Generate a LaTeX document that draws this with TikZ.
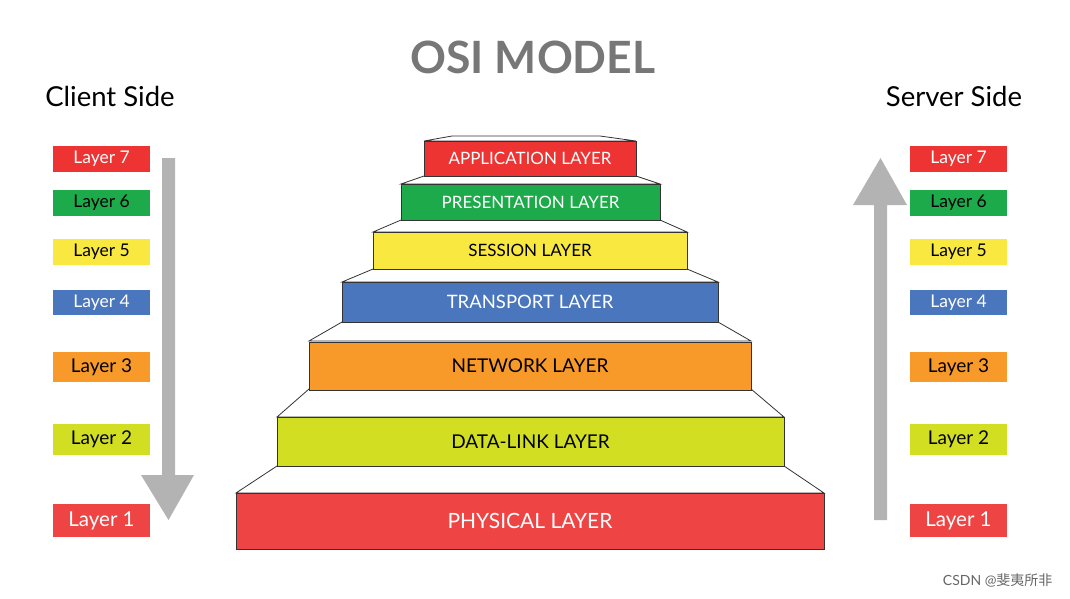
\documentclass[tikz,border=0pt]{standalone}
\usepackage{fontspec}
\setmainfont{Lato}
\newfontfamily\cjk{Noto Sans CJK SC}
\definecolor{cred}{HTML}{EE3333}
\definecolor{cgreen}{HTML}{1DAA4A}
\definecolor{cyellow}{HTML}{F8E83F}
\definecolor{cblue}{HTML}{4A76BD}
\definecolor{corange}{HTML}{F89A2A}
\definecolor{clime}{HTML}{D2DE22}
\definecolor{cphys}{HTML}{EF4444}
\definecolor{carrow}{HTML}{B3B3B3}
\definecolor{ctitle}{HTML}{777777}
\begin{document}
\begin{tikzpicture}[x=1pt,y=-1pt,
  osistep/.style={draw=black!80,line width=0.8pt,inner sep=0pt},
  tread/.style={draw=black!80,line width=0.8pt,fill=white},
  lbl/.style={minimum width=97pt,inner sep=0pt,font=\fontsize{17.5}{17.5}\selectfont}]
\useasboundingbox (0,0) rectangle (1070,598);
\node[font=\bfseries\fontsize{44.5}{44.5}\selectfont,text=ctitle] (title) at (533,57) {OSI MODEL};
\node[font=\fontsize{27.5}{27.5}\selectfont] (client) at (110,96) {Client Side};
\node[font=\fontsize{27.5}{27.5}\selectfont] (server) at (954,96) {Server Side};
% steps: treads
\draw[tread] (452,136) -- (600,136) -- (636,141) -- (424,141) -- cycle;
\draw[tread] (424,176) -- (636,176) -- (660,184) -- (401,184) -- cycle;
\draw[tread] (401,220) -- (660,220) -- (687,232) -- (373,232) -- cycle;
\draw[tread] (373,269) -- (687,269) -- (718,282) -- (342,282) -- cycle;
\draw[tread] (342,322) -- (718,322) -- (751,341) -- (309,341) -- cycle;
\draw[tread] (309,389) -- (751,389) -- (784,417) -- (277,417) -- cycle;
\draw[tread] (277,466) -- (784,466) -- (824,493) -- (236,493) -- cycle;
% layers
\node[osistep,fill=cred,text=white,minimum width=212pt,minimum height=35pt,font=\fontsize{17}{17}\selectfont] (app) at (530,158.5) {APPLICATION LAYER};
\node[osistep,fill=cgreen,text=white,minimum width=259pt,minimum height=36pt,font=\fontsize{17}{17}\selectfont] (pres) at (530.5,202) {PRESENTATION LAYER};
\node[osistep,fill=cyellow,text=black,minimum width=314pt,minimum height=37pt,font=\fontsize{17}{17}\selectfont] (sess) at (530,250.5) {SESSION LAYER};
\node[osistep,fill=cblue,text=white,minimum width=376pt,minimum height=40pt,font=\fontsize{18.5}{18.5}\selectfont] (trans) at (530,302) {TRANSPORT LAYER};
\node[osistep,fill=corange,text=black,minimum width=442pt,minimum height=48pt,font=\fontsize{19}{19}\selectfont] (net) at (530,366) {NETWORK LAYER};
\node[osistep,fill=clime,text=black,minimum width=507pt,minimum height=49pt,font=\fontsize{19}{19}\selectfont] (dl) at (530.5,441.5) {DATA-LINK LAYER};
\node[osistep,fill=cphys,text=white,minimum width=588pt,minimum height=56pt,font=\fontsize{21}{21}\selectfont] (phys) at (530,521) {PHYSICAL LAYER};
% side labels
\foreach \s/\cx in {L/101.5,R/958.5}{
\node[lbl,fill=cred,text=white,minimum height=26pt] (\s7) at (\cx,159) {Layer 7};
\node[lbl,fill=cgreen,text=black,minimum height=26pt] (\s6) at (\cx,203) {Layer 6};
\node[lbl,fill=cyellow,text=black,minimum height=26pt] (\s5) at (\cx,252) {Layer 5};
\node[lbl,fill=cblue,text=white,minimum height=25pt] (\s4) at (\cx,302.5) {Layer 4};
\node[lbl,fill=corange,text=black,minimum height=30pt,font=\fontsize{19}{19}\selectfont] (\s3) at (\cx,367) {Layer 3};
\node[lbl,fill=clime,text=black,minimum height=31pt,font=\fontsize{19}{19}\selectfont] (\s2) at (\cx,439.5) {Layer 2};
\node[lbl,fill=cphys,text=white,minimum height=33pt,font=\fontsize{20.5}{20.5}\selectfont] (\s1) at (\cx,520.5) {Layer 1};
}
% arrows
\fill[carrow] (162,158) -- (175,158) -- (175,475) -- (194,475) -- (168.5,520) -- (141,475) -- (162,475) -- cycle;
\fill[carrow] (874,520) -- (887,520) -- (887,205) -- (907,205) -- (880.5,158) -- (853,205) -- (874,205) -- cycle;
\node[text=black!60,font=\fontsize{14}{14}\selectfont,anchor=east] (wm) at (1056,580) {CSDN @{\cjk 斐夷所非}};
\end{tikzpicture}
\end{document}
